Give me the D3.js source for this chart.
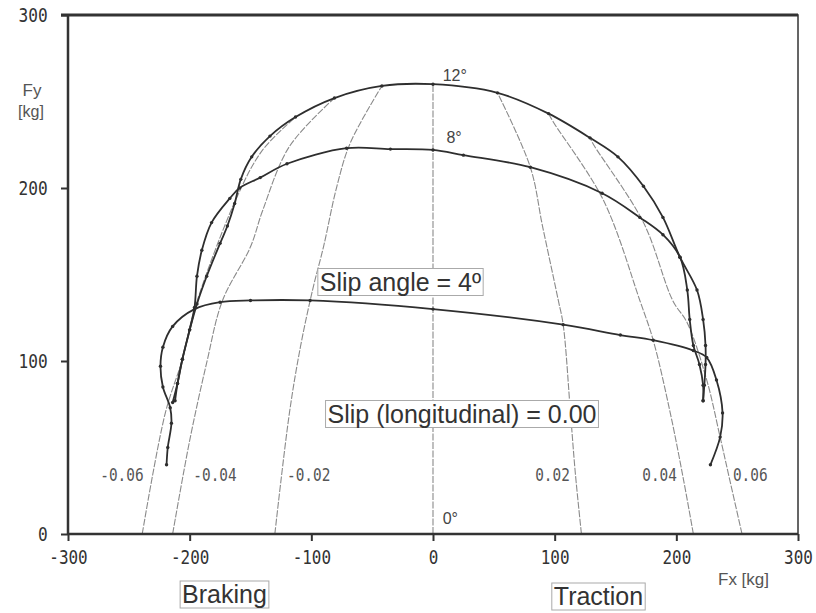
<!DOCTYPE html>
<html>
<head>
<meta charset="utf-8">
<script src="https://cdn.jsdelivr.net/npm/d3@7"></script>
<style>
  html, body { margin: 0; padding: 0; background: #fff; }
  svg { display: block; }
  .tick text { font-family: "DejaVu Sans Mono", monospace; font-size: 19px; fill: #333; }
  .tick line { stroke: #333; stroke-width: 2; }
</style>
</head>
<body>
<script>
// Tyre force envelope: lateral force Fy vs longitudinal force Fx [kg]
// for three slip angles, crossed by lines of constant longitudinal slip.

const xTicks = [-300, -200, -100, 0, 100, 200, 300];
const yTicks = [0, 100, 200, 300];

// Slip-angle curves, [Fx, Fy] in kg, from full braking to full traction
const curve12 = [[-212,77],[-210,87],[-206,101],[-200,118],[-194,133],[-186,149],[-175,168],
  [-169,178],[-163,191],[-158,205],[-149,218],[-134,230],[-113,241],[-81,252],[-42,259],
  [0,260],[53,255],[95,243],[129,229],[152,218],[173,201],[189,183],[203,160],[217,141],
  [222,124],[224,109],[224,98],[223,86],[222,77]];
const curve8 = [[-214,76],[-210,87],[-206,101],[-200,118],[-196,131],[-194,149],[-190,164],
  [-182,180],[-167,194],[-159,200],[-142,206],[-120,214],[-71,223],[-35,222.5],[0,222],[25,219],
  [80,212],[139,197],[170,183],[189,173],[203,160],[209,141],[211,124],[214,109],
  [219,98],[222,86],[222,77]];
const curve4 = [[-219,40],[-218,50],[-215,64],[-216,73],[-222,85],[-224,97],[-222,108],
  [-214,120],[-196,130],[-175,134],[-150,135],[-101,135],[0,130],[107,121],[154,115],
  [181,112],[214,106],[225,102],[233,89],[238,70],[236,56],[228,40]];
const curveLabels = ["12°", "8°", "0°"];

// Lines of constant longitudinal slip, [Fx, Fy]
const slipNeg06 = [[-239,0],[-220,70],[-206,101],[-196,130],[-161,195],[-140,222],[-113,241]];
const slipNeg04 = [[-214,0],[-200,54],[-186,99],[-173,135],[-150,166],[-140,187],[-118,224],[-81,252]];
const slipNeg02 = [[-130,0],[-118,70],[-109,108],[-99,141],[-90,166],[-79,201],[-68,226],[-42,259]];
const slipZero  = [[0,0],[0,260]];
const slipPos02 = [[122,0],[117,35],[113,70],[107,121],[103,135],[90,178],[80,212],[53,255]];
const slipPos04 = [[214,0],[206,31],[195,70],[181,112],[170,135],[140,193],[99,238],[95,243]];
const slipPos06 = [[254,0],[244,31],[236,56],[225,89],[209,122],[197,135],[173,180],[132,225],[129,229]];
const slipLabels = ["-0.06", "-0.04", "-0.02", "0.02", "0.04", "0.06"];

const W = 816, H = 613;
const svg = d3.select("body").append("svg").attr("width", W).attr("height", H);
svg.append("rect").attr("width", W).attr("height", H).attr("fill", "#fff");

const x = d3.scaleLinear().domain([-300, 300]).range([68, 798]);
const y = d3.scaleLinear().domain([0, 300]).range([534, 15]);

const line = d3.line().x(d => x(d[0])).y(d => y(d[1])).curve(d3.curveCatmullRom.alpha(0.5));

// constant-slip lines
const slipG = svg.append("g");
[slipNeg06, slipNeg04, slipNeg02, slipZero, slipPos02, slipPos04, slipPos06].forEach(s => {
  slipG.append("path").attr("d", line(s)).attr("fill", "none")
    .attr("stroke", "#8a8a8a").attr("stroke-width", 1.1).attr("stroke-dasharray", "7,1.5");
});

// slip-angle curves
const curveG = svg.append("g");
[curve4, curve8, curve12].forEach(c => {
  curveG.append("path").attr("d", line(c)).attr("fill", "none")
    .attr("stroke", "#2e2e2e").attr("stroke-width", 1.8).attr("stroke-linejoin", "round");
  curveG.selectAll(null).data(c).enter().append("circle")
    .attr("cx", d => x(d[0])).attr("cy", d => y(d[1])).attr("r", 1.7).attr("fill", "#2e2e2e");
});

// frame
svg.append("rect").attr("x", x(-300)).attr("y", y(300))
  .attr("width", x(300) - x(-300)).attr("height", y(0) - y(300))
  .attr("fill", "none").attr("stroke", "#333").attr("stroke-width", 1.5);
svg.append("line").attr("x1", x(-300) - 7).attr("x2", x(300)).attr("y1", y(300)).attr("y2", y(300))
  .attr("stroke", "#333").attr("stroke-width", 3);
svg.append("line").attr("x1", x(-300)).attr("x2", x(300)).attr("y1", y(0)).attr("y2", y(0))
  .attr("stroke", "#333").attr("stroke-width", 2.5);
svg.append("line").attr("x1", x(-300)).attr("x2", x(-300)).attr("y1", y(300)).attr("y2", y(0))
  .attr("stroke", "#333").attr("stroke-width", 2.5);

// axes
const xAxis = svg.append("g").attr("transform", `translate(0,${y(0)})`)
  .call(d3.axisBottom(x).tickValues(xTicks).tickSize(7).tickSizeOuter(0).tickPadding(10)
    .tickFormat(d3.format("d")));
xAxis.select(".domain").remove();
xAxis.selectAll(".tick text").attr("transform", "scale(0.84,1)").text(d => d < 0 ? "-" + Math.abs(d) : d);

const yAxis = svg.append("g").attr("transform", `translate(${x(-300)},0)`)
  .call(d3.axisLeft(y).tickValues(yTicks).tickSize(7).tickSizeOuter(0).tickPadding(17));
yAxis.select(".domain").remove();
yAxis.selectAll(".tick text").attr("transform", "scale(0.85,1)");

// axis titles
const sans = "'Liberation Sans', Arial, sans-serif";
svg.append("text").attr("x", 32).attr("y", 96).attr("text-anchor", "middle")
  .attr("font-family", sans).attr("font-size", 17).attr("fill", "#555").text("Fy");
svg.append("text").attr("x", 31).attr("y", 117).attr("text-anchor", "middle")
  .attr("font-family", sans).attr("font-size", 16).attr("fill", "#555").text("[kg]");
svg.append("text").attr("x", 718).attr("y", 585)
  .attr("font-family", sans).attr("font-size", 17).attr("fill", "#555").text("Fx [kg]");

// slip-angle labels next to the zero-slip line
const angleLabelPos = [[8, 262], [11, 226], [8, 6]];
curveLabels.forEach((t, i) => {
  svg.append("text").attr("x", x(angleLabelPos[i][0])).attr("y", y(angleLabelPos[i][1]))
    .attr("font-family", sans).attr("font-size", 16).attr("fill", "#444").text(t);
});

// slip value labels
const slipLabelFx = [-273.5, -197, -120, 84, 172, 246.5];
slipLabels.forEach((t, i) => {
  svg.append("text").attr("transform", `translate(${x(slipLabelFx[i])},481) scale(0.8,1)`)
    .attr("font-family", "'DejaVu Sans Mono', monospace").attr("font-size", 18)
    .attr("fill", "#555").text(t);
});

// boxed annotations
function boxed(cx, cy, txt, size) {
  const g = svg.append("g");
  const r = g.append("rect").attr("fill", "#fff").attr("stroke", "#aaa").attr("stroke-width", 1);
  const t = g.append("text").attr("x", cx).attr("y", cy).attr("text-anchor", "middle")
    .attr("dominant-baseline", "central")
    .attr("font-family", sans).attr("font-size", size).attr("fill", "#333").text(txt);
  const b = t.node().getBBox();
  r.attr("x", b.x - 2).attr("y", b.y + 1).attr("width", b.width + 4).attr("height", b.height - 1);
}
boxed(400.5, 281.5, "Slip angle = 4º", 25);
boxed(462, 413.5, "Slip (longitudinal) = 0.00", 25);
boxed(224.5, 594, "Braking", 25);
boxed(598.5, 596, "Traction", 25);
</script>
</body>
</html>
